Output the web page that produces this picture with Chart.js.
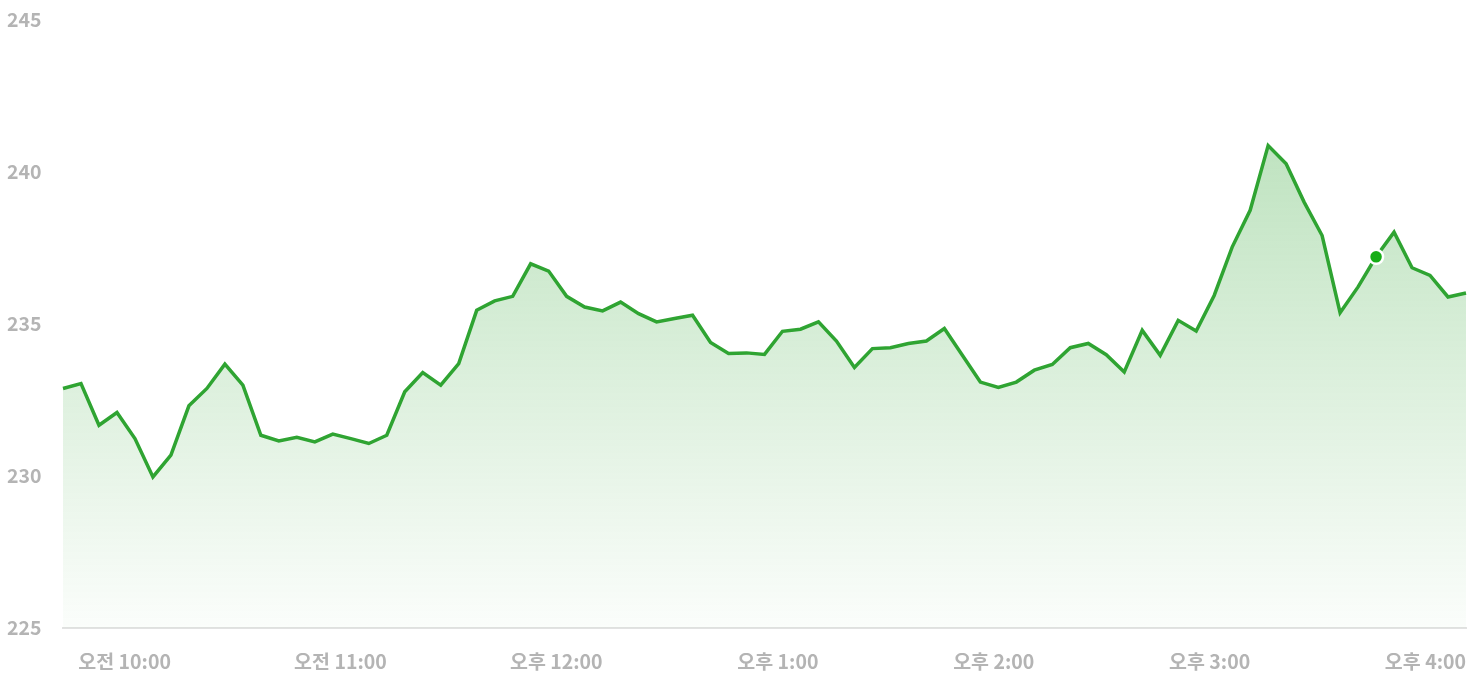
<!DOCTYPE html>
<html>
<head>
<meta charset="utf-8">
<script src="https://cdn.jsdelivr.net/npm/chart.js@4.4.1/dist/chart.umd.min.js"></script>
<style>
    html, body { margin: 0; padding: 0; background: #ffffff; }
    #wrap { width: 1472px; height: 680px; position: relative; }
</style>
</head>
<body>
<div id="wrap"><canvas id="priceChart"></canvas></div>
<script>
// 5 minute prices, 9:30 to 16:00
const prices = [
    232.88, 233.04, 231.67, 232.09, 231.23, 229.97, 230.69, 232.31, 232.88, 233.68,
    232.99, 231.34, 231.15, 231.27, 231.12, 231.38, 231.23, 231.07, 231.34, 232.77,
    233.40, 232.99, 233.70, 235.45, 235.76, 235.91, 236.98, 236.74, 235.91, 235.56,
    235.43, 235.72, 235.34, 235.07, 235.18, 235.29, 234.39, 234.03, 234.05, 234.00,
    234.76, 234.83, 235.07, 234.44, 233.57, 234.19, 234.22, 234.36, 234.44, 234.85,
    233.97, 233.09, 232.91, 233.09, 233.48, 233.67, 234.22, 234.36, 233.99, 233.42,
    234.79, 233.97, 235.12, 234.77, 235.94, 237.53, 238.74, 240.87, 240.27, 239.01,
    237.91, 235.37, 236.22, 237.21, 238.02, 236.85, 236.60, 235.89, 236.02
];
const startMinute = 9 * 60 + 30;
const stepMinutes = 5;
const markerIndex = 73;
const yTicks = [225, 230, 235, 240, 245];

// time labels for each point
const times = [];
for (let i = 0; i < prices.length; i++) {
    times.push(startMinute + i * stepMinutes);
}

function timeLabel(mins) {
    const h = Math.floor(mins / 60);
    const m = mins % 60;
    const ampm = h < 12 ? '오전' : '오후';
    const h12 = h > 12 ? h - 12 : h;
    return ampm + ' ' + h12 + ':' + String(m).padStart(2, '0');
}

const markerData = prices.map((p, i) => (i === markerIndex ? p : null));

const labelFont = { family: "'Noto Sans CJK KR', 'Noto Sans', sans-serif", size: 19.5, weight: 'bold' };
const labelColor = '#b4b4b4';

const ctx = document.getElementById('priceChart').getContext('2d');
const priceChart = new Chart(ctx, {
    type: 'line',
    data: {
        labels: times.map(timeLabel),
        datasets: [{
            data: markerData,
            borderColor: '#ffffff',
            backgroundColor: '#16ad16',
            pointRadius: 7,
            pointBorderWidth: 2.5,
            pointBorderColor: '#ffffff',
            showLine: false,
            fill: false
        }, {
            data: prices,
            borderColor: '#2fa432',
            borderWidth: 3.5,
            pointRadius: 0,
            tension: 0,
            fill: 'start',
            backgroundColor: function (context) {
                const area = context.chart.chartArea;
                if (!area) return 'rgba(47,164,50,0.2)';
                const g = context.chart.ctx.createLinearGradient(0, area.top, 0, area.bottom);
                g.addColorStop(0, 'rgba(47,164,50,0.38)');
                g.addColorStop(1, 'rgba(47,164,50,0.02)');
                return g;
            }
        }]
    },
    options: {
        responsive: true,
        maintainAspectRatio: false,
        animation: false,
        layout: { autoPadding: false, padding: { left: 7, right: 6, top: 20, bottom: 0 } },
        plugins: {
            legend: { display: false },
            tooltip: { enabled: false }
        },
        scales: {
            x: {
                grid: { display: false },
                border: { display: true, color: '#e2e2e2', width: 2 },
                afterFit: function (scale) {
                    scale.height = 52;
                    scale.paddingLeft = 0;
                    scale.paddingRight = 0;
                },
                ticks: {
                    autoSkip: false,
                    maxRotation: 0,
                    align: 'end',
                    padding: 14,
                    color: labelColor,
                    font: labelFont,
                    callback: function (value, index) {
                        const mins = times[index];
                        if (mins % 60 === 0 && mins >= 600) return timeLabel(mins);
                        return null;
                    }
                }
            },
            y: {
                min: 225,
                max: 245,
                grid: { display: false },
                border: { display: false },
                afterFit: function (scale) { scale.width = 56; },
                afterBuildTicks: function (scale) {
                    scale.ticks = yTicks.map(v => ({ value: v }));
                },
                ticks: {
                    crossAlign: 'far',
                    color: labelColor,
                    font: labelFont
                }
            }
        }
    }
});
</script>
</body>
</html>
